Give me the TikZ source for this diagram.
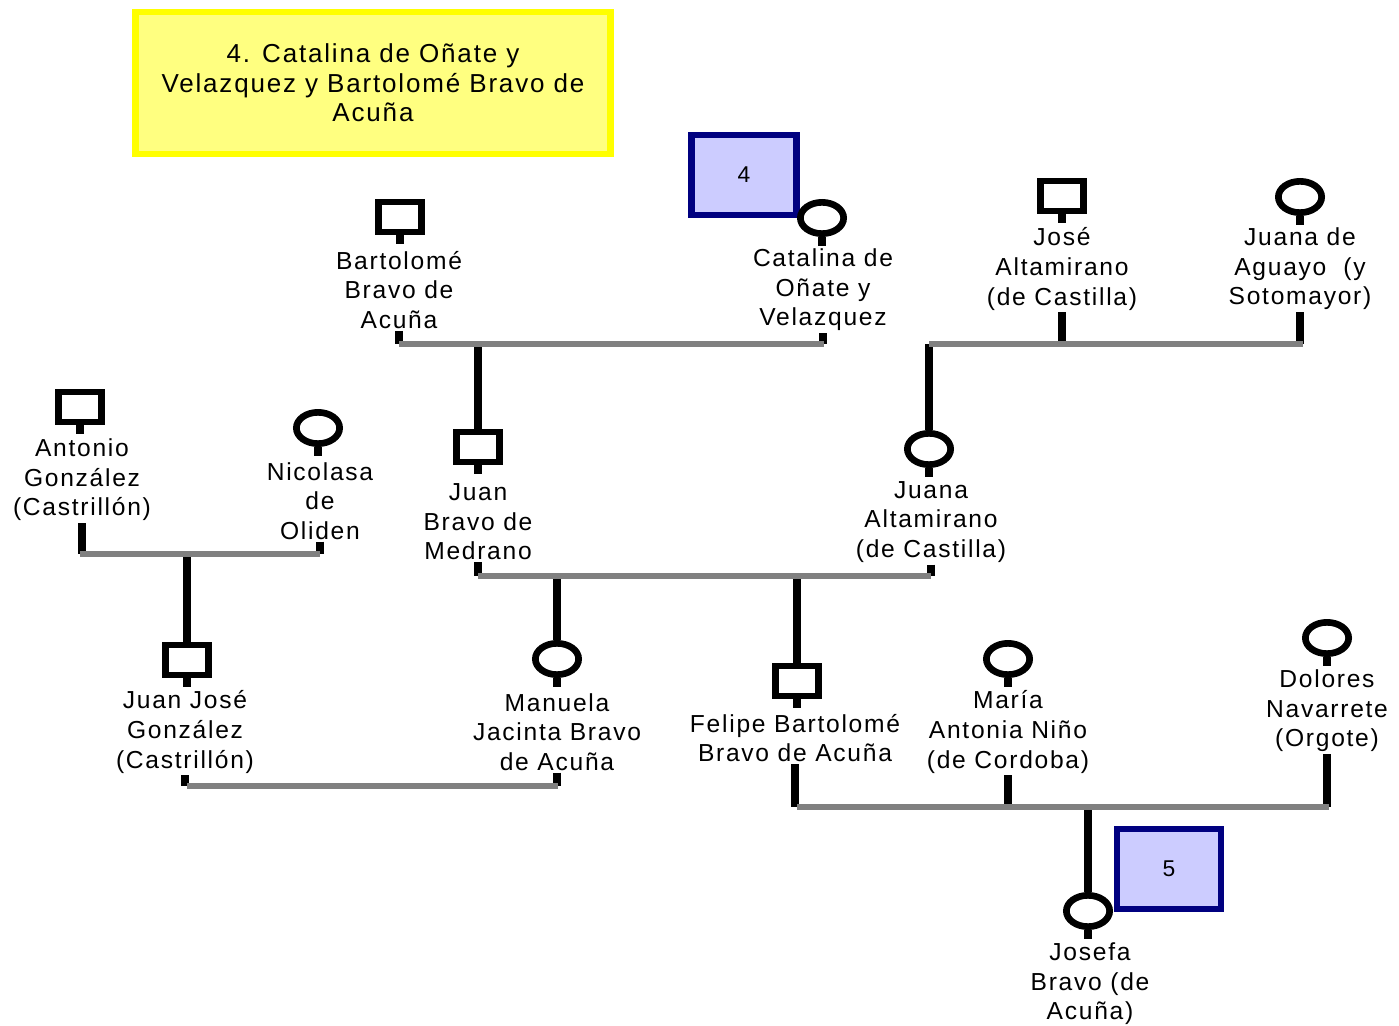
\documentclass[tikz,border=0pt]{standalone}
\usepackage{fontspec}
\setmainfont{Liberation Sans}[LetterSpace=7]
\definecolor{couplegray}{RGB}{128,128,128}
\definecolor{notefill}{RGB}{255,255,128}
\definecolor{noteedge}{RGB}{255,255,0}
\definecolor{tagfill}{RGB}{204,204,255}
\definecolor{tagedge}{RGB}{0,0,128}
\usetikzlibrary{shapes.geometric}

\begin{document}
\begin{tikzpicture}[x=0.02cm,y=-0.02cm,
    male/.style={draw,line width=3.8pt,fill=white,minimum width=0.866cm,minimum height=0.606cm,inner sep=0pt},
    female/.style={draw,ellipse,line width=3.8pt,fill=white,minimum width=0.866cm,minimum height=0.626cm,inner sep=0pt},
    personlabel/.style={align=center,font=\fontsize{14}{16.8}\selectfont,inner sep=1pt},
    tag/.style={draw=tagedge,fill=tagfill,line width=3.6pt,minimum width=2.1cm,minimum height=1.6cm,font=\fontsize{13}{15}\selectfont},
    stub/.style={line width=4.2pt},
    descent/.style={line width=4.2pt},
    couple/.style={couplegray,line width=3.2pt}]
    \useasboundingbox (0,0) rectangle (1399,1026);

    % title
    \node[draw=noteedge,fill=notefill,line width=3.8pt,minimum width=9.5cm,minimum height=2.84cm,
          personlabel,font=\fontsize{14.8}{16.8}\selectfont] (title) at (373,83) {4. Catalina de Oñate y\\Velazquez y Bartolomé Bravo de\\Acuña};

    % generation 1
    \node[male] (bart) at (400,217) {};
    \node[personlabel] (bartl) at (399,290) {Bartolomé\\Bravo de\\Acuña};
    \node[tag] (tag4) at (744,175) {4};
    \node[female] (cata) at (822,218) {};
    \node[personlabel] (catal) at (823,290) {Catalina de\\Oñate y\\Velazquez};
    \node[male] (jose) at (1062,196) {};
    \node[personlabel] (josel) at (1062,269) {José\\Altamirano\\(de Castilla)};
    \node[female] (aguayo) at (1300,197) {};
    \node[personlabel] (aguayol) at (1300,269) {Juana de\\Aguayo\ \ (y\\Sotomayor)};

    % generation 2
    \node[male] (antonio) at (80,407) {};
    \node[personlabel] (antoniol) at (82,480) {Antonio\\González\\(Castrillón)};
    \node[female] (nicolasa) at (318,428) {};
    \node[personlabel] (nicolasal) at (320,501) {Nicolasa\\de\\Oliden};
    \node[male] (juanbm) at (478,447) {};
    \node[personlabel] (juanbml) at (478,522) {Juan\\Bravo de\\Medrano};
    \node[female] (juanaalt) at (929,449) {};
    \node[personlabel] (juanaaltl) at (931,522) {Juana\\Altamirano\\(de Castilla)};

    % generation 3
    \node[male] (juanjose) at (187,660) {};
    \node[personlabel] (juanjosel) at (185,732) {Juan José\\González\\(Castrillón)};
    \node[female] (manuela) at (557,659) {};
    \node[personlabel] (manuelal) at (557,732) {Manuela\\Jacinta Bravo\\de Acuña};
    \node[male] (felipe) at (797,681) {};
    \node[personlabel] (felipel) at (795,738) {Felipe Bartolomé\\Bravo de Acuña};
    \node[female] (maria) at (1008,659) {};
    \node[personlabel] (marial) at (1008,732) {María\\Antonia Niño\\(de Cordoba)};
    \node[female] (dolores) at (1327,638) {};
    \node[personlabel] (doloresl) at (1327,711) {Dolores\\Navarrete\\(Orgote)};

    % generation 4
    \node[tag,minimum width=2.07cm] (tag5) at (1169,869) {5};
    \node[female] (josefa) at (1088,911) {};
    \node[personlabel] (josefal) at (1090,984) {Josefa\\Bravo (de\\Acuña)};

    % couple lines
    \coordinate (c1l) at (399,344);  \coordinate (c1r) at (824,344);
    \coordinate (c2l) at (929,344);  \coordinate (c2r) at (1303,344);
    \coordinate (c3l) at (80,554);   \coordinate (c3r) at (320,554);
    \coordinate (c4l) at (478,576);  \coordinate (c4r) at (931,576);
    \coordinate (c5l) at (187,786);  \coordinate (c5r) at (558,786);
    \coordinate (c6l) at (797,807);  \coordinate (c6r) at (1329,807);

    % drop points for children
    \coordinate (d1) at (478,344);
    \coordinate (d2) at (929,344);
    \coordinate (d3) at (187,554);
    \coordinate (d4) at (557,576);
    \coordinate (d5) at (797,576);
    \coordinate (d6) at (1088,807);

    % short stubs under the symbols
    \foreach \p in {bart,cata,jose,aguayo,antonio,nicolasa,juanbm,juanaalt,
                    juanjose,manuela,felipe,maria,dolores,josefa}
        \draw[stub] (\p.south) -- ++(0,9);

    % stubs from the names down to the couple lines
    \draw[stub] (bartl.south) -- (bartl.south |- c1l);
    \draw[stub] (catal.south) -- (catal.south |- c1l);
    \draw[stub] (josel.south) -- (josel.south |- c2l);
    \draw[stub] (aguayol.south) -- (aguayol.south |- c2l);
    \draw[stub] (antoniol.south) -- (antoniol.south |- c3l);
    \draw[stub] (nicolasal.south) -- (nicolasal.south |- c3l);
    \draw[stub] (juanbml.south) -- (juanbml.south |- c4l);
    \draw[stub] (juanaaltl.south) -- (juanaaltl.south |- c4l);
    \draw[stub] (juanjosel.south) -- (juanjosel.south |- c5l);
    \draw[stub] (manuelal.south) -- (manuelal.south |- c5l);
    \draw[stub] (felipel.south) -- (felipel.south |- c6l);
    \draw[stub] (marial.south) -- (marial.south |- c6l);
    \draw[stub] (doloresl.south) -- (doloresl.south |- c6l);

    % children
    \draw[descent] (d1) -- (juanbm.north);
    \draw[descent] (d2) -- (juanaalt.north);
    \draw[descent] (d3) -- (juanjose.north);
    \draw[descent] (d4) -- (manuela.north);
    \draw[descent] (d5) -- (felipe.north);
    \draw[descent] (d6) -- (josefa.north);

    \foreach \c in {1,...,6}
        \draw[couple] (c\c l) -- (c\c r);
\end{tikzpicture}
\end{document}
